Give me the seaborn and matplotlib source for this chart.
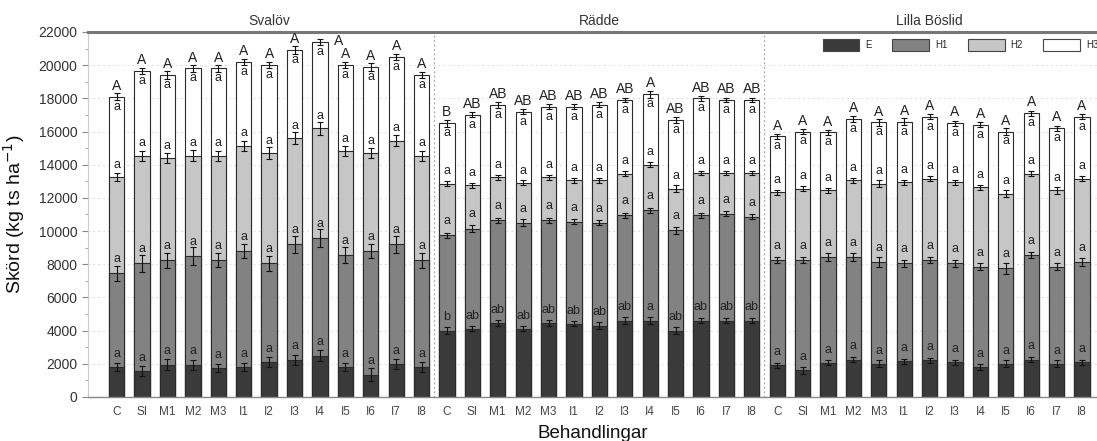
import matplotlib
matplotlib.use("Agg")
import matplotlib.pyplot as plt
import seaborn as sns
import pandas as pd
import numpy as np
from matplotlib.patches import Patch
from matplotlib.ticker import MultipleLocator

sites = ["Svalöv", "Rädde", "Lilla Böslid"]
treatments = ["C", "SI", "M1", "M2", "M3", "I1", "I2", "I3", "I4", "I5", "I6", "I7", "I8"]
layers = ["E", "H1", "H2", "H3"]

# Segment yields (kg ts/ha) per harvest, per site
svalov_E = [1800, 1550, 1950, 1950, 1750, 1800, 2100, 2250, 2500, 1800, 1350, 2000, 1800]
svalov_H1 = [5650, 6500, 6300, 6550, 6500, 7000, 5950, 6950, 7100, 6750, 7450, 7200, 6450]
svalov_H2 = [5800, 6500, 6150, 6050, 6300, 6350, 6650, 6400, 6600, 6250, 5900, 6250, 6300]
svalov_H3 = [4850, 5100, 5000, 5250, 5250, 5050, 5300, 5300, 5200, 5200, 5200, 5050, 4850]

radde_E = [4000, 4100, 4450, 4100, 4450, 4400, 4300, 4600, 4600, 4000, 4600, 4600, 4600]
radde_H1 = [5750, 6050, 6200, 6400, 6200, 6150, 6200, 6350, 6650, 6050, 6350, 6450, 6250]
radde_H2 = [3100, 2600, 2600, 2400, 2600, 2500, 2550, 2500, 2750, 2500, 2550, 2450, 2650]
radde_H3 = [3650, 4250, 4350, 4300, 4250, 4450, 4550, 4450, 4250, 4150, 4500, 4400, 4400]

lilla_E = [1900, 1600, 2050, 2250, 2000, 2150, 2200, 2100, 1800, 2000, 2250, 2000, 2100]
lilla_H1 = [6350, 6650, 6400, 6200, 6150, 5900, 6050, 5950, 6050, 5750, 6300, 5850, 6050]
lilla_H2 = [4100, 4300, 4000, 4600, 4700, 4900, 4900, 4900, 4800, 4500, 4900, 4600, 5000]
lilla_H3 = [3350, 3450, 3500, 3700, 3700, 3650, 3750, 3550, 3750, 3750, 3650, 3750, 3750]

# Standard errors (estimated)
svalov_E_err = [250, 300, 350, 300, 250, 250, 300, 300, 350, 250, 400, 300, 300]
svalov_H1_err = [450, 500, 450, 550, 400, 450, 450, 500, 550, 500, 450, 500, 450]
svalov_H2_err = [250, 300, 300, 350, 300, 300, 350, 350, 400, 300, 300, 350, 300]
svalov_H3_err = [200, 200, 250, 200, 200, 200, 200, 250, 200, 200, 250, 200, 200]
radde_E_err = [200, 150, 200, 150, 200, 150, 200, 200, 200, 200, 150, 150, 150]
radde_H1_err = [150, 200, 150, 200, 150, 150, 150, 150, 150, 200, 150, 150, 150]
radde_H2_err = [150, 150, 150, 150, 150, 150, 150, 150, 150, 200, 150, 150, 150]
radde_H3_err = [200, 150, 200, 150, 150, 150, 150, 150, 200, 200, 150, 150, 150]
lilla_E_err = [150, 200, 150, 150, 200, 150, 150, 150, 200, 200, 150, 200, 150]
lilla_H1_err = [200, 200, 250, 250, 300, 200, 200, 200, 200, 350, 200, 200, 250]
lilla_H2_err = [150, 150, 150, 150, 200, 150, 150, 150, 150, 200, 150, 200, 150]
lilla_H3_err = [150, 150, 150, 200, 200, 200, 150, 150, 150, 200, 150, 150, 150]

# Significance letters
svalov_E_letters = ["a", "a", "a", "a", "a", "a", "a", "a", "a", "a", "a", "a", "a"]
radde_E_letters = ["b", "ab", "ab", "ab", "ab", "ab", "ab", "ab", "a", "ab", "ab", "ab", "ab"]
lilla_E_letters = ["a", "a", "a", "a", "a", "a", "a", "a", "a", "a", "a", "a", "a"]
svalov_total_letters = ["A", "A", "A", "A", "A", "A", "A", "A", "A", "A", "A", "A", "A"]
radde_total_letters = ["B", "AB", "AB", "AB", "AB", "AB", "AB", "AB", "A", "AB", "AB", "AB", "AB"]
lilla_total_letters = ["A", "A", "A", "A", "A", "A", "A", "A", "A", "A", "A", "A", "A"]
harvest_letter = "a"

site_values = {
    "Svalöv": (svalov_E, svalov_H1, svalov_H2, svalov_H3),
    "Rädde": (radde_E, radde_H1, radde_H2, radde_H3),
    "Lilla Böslid": (lilla_E, lilla_H1, lilla_H2, lilla_H3),
}
site_errors = {
    "Svalöv": (svalov_E_err, svalov_H1_err, svalov_H2_err, svalov_H3_err),
    "Rädde": (radde_E_err, radde_H1_err, radde_H2_err, radde_H3_err),
    "Lilla Böslid": (lilla_E_err, lilla_H1_err, lilla_H2_err, lilla_H3_err),
}
site_E_letters = {"Svalöv": svalov_E_letters, "Rädde": radde_E_letters, "Lilla Böslid": lilla_E_letters}
site_total_letters = {"Svalöv": svalov_total_letters, "Rädde": radde_total_letters,
                      "Lilla Böslid": lilla_total_letters}

rows = []
for s in sites:
    vals = site_values[s]
    errs = site_errors[s]
    for i, t in enumerate(treatments):
        r = {"key": f"{s}|{t}", "site": s, "treat": t,
             "Eletter": site_E_letters[s][i], "Tletter": site_total_letters[s][i]}
        for j, L in enumerate(layers):
            r[L] = vals[j][i]
            r[L + "_err"] = errs[j][i]
        rows.append(r)
df = pd.DataFrame(rows)
cum = 0
for L in layers:
    cum = cum + df[L]
    df["cum_" + L] = cum
keys = df["key"].tolist()

colors = {"E": "#3a3a3a", "H1": "#828282", "H2": "#c6c6c6", "H3": "#ffffff"}

sns.set_style("white")
plt.rcParams["font.family"] = ["Liberation Sans", "DejaVu Sans"]

fig = plt.figure(figsize=(10.97, 4.41), dpi=100)
ax = fig.add_axes([0.0802, 0.0998, 0.9198, 0.8277])

for L in reversed(layers):
    sns.barplot(data=df, x="key", y="cum_" + L, order=keys, color=colors[L], saturation=1,
                edgecolor="#2a2a2a", linewidth=0.8, width=0.6, errorbar=None, ax=ax, zorder=2)

xpos = np.arange(len(df))
for L in layers:
    ax.errorbar(xpos, df["cum_" + L], yerr=df[L + "_err"], fmt="none", ecolor="#111111",
                elinewidth=0.8, capsize=2, capthick=0.8, zorder=4)

for i, r in df.iterrows():
    ax.text(i, r["cum_E"] + 800, r["Eletter"], ha="center", va="center", fontsize=9, color="#222222", zorder=5)
    ax.text(i, r["cum_H1"] + 850, harvest_letter, ha="center", va="center", fontsize=9, color="#222222", zorder=5)
    ax.text(i, r["cum_H2"] + 750, harvest_letter, ha="center", va="center", fontsize=9, color="#222222", zorder=5)
    ax.text(i, r["cum_H3"] - 600, harvest_letter, ha="center", va="center", fontsize=9, color="#222222", zorder=5)
    tot = r["cum_H3"]
    if tot + 700 > 21800:
        ax.text(i + 0.75, tot + 50, r["Tletter"], ha="center", va="center", fontsize=10, color="#222222", zorder=5)
    else:
        ax.text(i, tot + 650, r["Tletter"], ha="center", va="center", fontsize=10, color="#222222", zorder=5)

ax.set_xlim(-1.13, 38.59)
ax.set_ylim(0, 22000)
ax.yaxis.set_major_locator(MultipleLocator(2000))
ax.yaxis.set_minor_locator(MultipleLocator(1000))
ax.set_xticks(xpos)
ax.set_xticklabels(treatments * len(sites))
ax.tick_params(axis="x", labelsize=8.5, labelcolor="#444444", length=3, color="#888888", direction="out")
ax.tick_params(axis="y", which="major", labelsize=10, labelcolor="#333333", length=4, color="#888888",
               direction="out", left=True)
ax.tick_params(axis="y", which="minor", length=2, color="#999999", direction="out", left=True)
ax.grid(axis="y", which="major", linestyle=(0, (2, 3)), color="#dddddd", linewidth=0.7, zorder=0)
ax.set_axisbelow(True)

for xd in [12.5, 25.5]:
    ax.axvline(xd, color="#999999", linestyle=(0, (1.5, 2.5)), linewidth=0.8, zorder=1)

ax.spines["top"].set_color("#777777")
ax.spines["top"].set_linewidth(2.2)
ax.spines["bottom"].set_color("#888888")
ax.spines["bottom"].set_linewidth(1.0)
ax.spines["left"].set_color("#cccccc")
ax.spines["left"].set_linewidth(0.8)
ax.spines["right"].set_visible(False)

ax.set_xlabel("Behandlingar", fontsize=13.5, labelpad=5, color="#111111")
ax.set_ylabel("Skörd (kg ts ha$^{-1}$)", fontsize=14, labelpad=8, color="#111111")

for k, s in enumerate(sites):
    ax.text(k * len(treatments) + (len(treatments) - 1) / 2, 22250, s, ha="center", va="bottom",
            fontsize=10, color="#333333")

handles = [Patch(facecolor=colors[L], edgecolor="#444444", linewidth=0.8, label=L) for L in layers]
ax.legend(handles=handles, loc="upper left", bbox_to_anchor=(0.728, 0.982), ncol=4, frameon=False,
          fontsize=7, handlelength=3.8, handleheight=1.6, handletextpad=0.6, columnspacing=2.1,
          borderpad=0, borderaxespad=0)

fig.savefig("out.png", dpi=100)
